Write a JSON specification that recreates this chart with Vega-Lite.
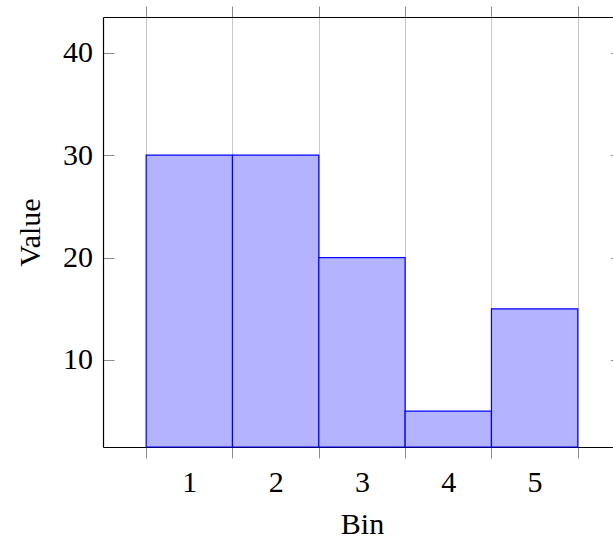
{
  "$schema": "https://vega.github.io/schema/vega-lite/v6.json",
  "autosize": "none",
  "padding": {"left": 103, "top": 17, "right": 0, "bottom": 97},
  "width": 510,
  "height": 430,
  "background": "white",
  "config": {"view": {"stroke": null}, "font": "Liberation Serif"},
  "data": {"values": [
    {"bin_start": 1, "bin_end": 2, "value": 30},
    {"bin_start": 2, "bin_end": 3, "value": 30},
    {"bin_start": 3, "bin_end": 4, "value": 20},
    {"bin_start": 4, "bin_end": 5, "value": 5},
    {"bin_start": 5, "bin_end": 6, "value": 15}
  ]},
  "layer": [
    {
      "mark": {"type": "bar", "fill": "#b3b3ff", "stroke": "#0000ff", "strokeWidth": 1.2, "fillOpacity": 1},
      "encoding": {
        "x": {
          "field": "bin_start", "type": "quantitative",
          "scale": {"domain": [0.5, 6.408], "nice": false, "zero": false},
          "axis": {
            "orient": "bottom",
            "values": [1, 1.5, 2, 2.5, 3, 3.5, 4, 4.5, 5, 5.5, 6],
            "grid": true,
            "gridColor": "#c8c8c8",
            "gridWidth": 1,
            "gridOpacity": {"condition": {"test": "datum.value % 1 != 0", "value": 0}, "value": 1},
            "tickOpacity": {"condition": {"test": "datum.value % 1 != 0", "value": 0}, "value": 1},
            "tickSize": 11,
            "tickWidth": 1,
            "tickColor": "#8c8c8c",
            "domainColor": "black",
            "domainWidth": 1.2,
            "labelExpr": "datum.value % 1 == 0.5 ? toString(floor(datum.value)) : ''",
            "labelFontSize": 30,
            "labelColor": "black",
            "labelBaseline": "alphabetic",
            "labelPadding": 33,
            "labelFlush": false,
            "labelOverlap": false,
            "title": "Bin",
            "titleFontSize": 30,
            "titleFontWeight": "normal",
            "titleColor": "black",
            "titleX": 259,
            "titleY": 86,
            "titleBaseline": "alphabetic"
          }
        },
        "x2": {"field": "bin_end"},
        "y": {
          "field": "value", "type": "quantitative",
          "scale": {"domain": [1.5, 43.5], "nice": false, "zero": false},
          "axis": {
            "orient": "left",
            "values": [10, 20, 30, 40],
            "grid": false,
            "tickSize": -11,
            "tickWidth": 1,
            "tickColor": "#8c8c8c",
            "domainColor": "black",
            "domainWidth": 1.2,
            "labelFontSize": 30,
            "labelColor": "black",
            "labelPadding": 21.6,
            "labelBaseline": "middle",
            "title": "Value",
            "titleFontSize": 30,
            "titleFontWeight": "normal",
            "titleColor": "black",
            "titleX": -63.3,
            "titleY": 215,
            "titleAngle": 270,
            "titleBaseline": "alphabetic",
            "titleAlign": "center"
          }
        },
        "y2": {"datum": 1.5}
      }
    },
    {
      "mark": {"type": "point", "opacity": 0},
      "encoding": {
        "x": {
          "field": "bin_start", "type": "quantitative",
          "scale": {"domain": [0.5, 6.408], "nice": false, "zero": false},
          "axis": {
            "orient": "top",
            "values": [1, 2, 3, 4, 5, 6],
            "grid": false,
            "labels": false,
            "tickSize": 11,
            "tickWidth": 1,
            "tickColor": "#8c8c8c",
            "domainColor": "black",
            "domainWidth": 1.2,
            "title": null
          }
        },
        "y": {
          "field": "value", "type": "quantitative",
          "scale": {"domain": [1.5, 43.5], "nice": false, "zero": false},
          "axis": {
            "orient": "right",
            "offset": 8.5,
            "values": [10, 20, 30, 40],
            "grid": false,
            "labels": false,
            "domain": false,
            "tickSize": -11,
            "tickWidth": 1,
            "tickColor": "#8c8c8c",
            "title": null
          }
        }
      }
    }
  ],
  "resolve": {"axis": {"x": "independent", "y": "independent"}}
}
